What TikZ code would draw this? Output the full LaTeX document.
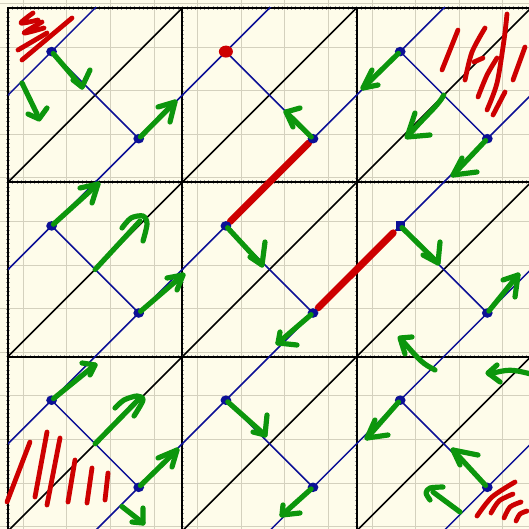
\documentclass[tikz,border=0pt]{standalone}
\usetikzlibrary{calc}
\definecolor{bg}{RGB}{254,252,234}
\definecolor{lightgrid}{RGB}{212,209,190}
\definecolor{navy}{RGB}{12,16,150}
\definecolor{gr}{RGB}{12,150,12}
\definecolor{rd}{RGB}{205,0,0}
\newcommand{\garr}[4]{\draw[garrow,shorten <=2.5pt] #1 -- #2; \draw[garrow] #3 -- #2 -- #4;}
\begin{document}
\begin{tikzpicture}[x=1pt,y=-1pt,
  garrow/.style={draw=gr,line width=5.2pt,line cap=round,line join=round},
  hatch/.style={draw=rd,line width=4.8pt,line cap=round,line join=round},
  redline/.style={draw=rd,line width=7pt,line cap=round},
  lgrid/.style={draw=lightgrid,line width=1.1pt},
  tgrid/.style={draw=black,line width=2.1pt,line cap=rect},
  tickmark/.style={draw=black!40,line width=0.3pt},
  blueline/.style={draw=navy,line width=1.5pt},
  diagline/.style={draw=black,line width=1.6pt},
  bluedot/.style={fill=navy}]
\fill[bg] (0,0) rectangle (529,529);
\useasboundingbox (0,0) rectangle (529,529);
% light grid
\foreach \k in {0,...,11} \draw[lgrid] ({23.3+43.6*\k},0) -- ({23.3+43.6*\k},529);
\foreach \k in {0,...,12} \draw[lgrid] (0,{3.5+43.6*\k}) -- (529,{3.5+43.6*\k});
% thick grid with ticks
\foreach \k in {0,1,2}{
  \pgfmathsetmacro\p{8+174.3*\k}
  \foreach \t in {1,...,119}{
    \draw[tickmark] (\p-1.8,{8+4.3575*\t}) -- (\p+1.8,{8+4.3575*\t});
    \draw[tickmark] ({8+4.3575*\t},\p-1.8) -- ({8+4.3575*\t},\p+1.8);
  }
  \draw[tgrid] (\p,8) -- (\p,531);
  \draw[tgrid] (8,\p) -- (531,\p);
}
% diagonals
\begin{scope}
  \clip (8,8) rectangle (529,529);
  \foreach \c in {103.15,277.45,451.75,626.05,800.35,974.65}
    \draw[blueline] ({\c-600},600) -- (600,{\c-600});
  \foreach \c in {190.3,364.6,538.9,713.2,887.5}
    \draw[diagline] ({\c-600},600) -- (600,{\c-600});
\end{scope}
% cell points
\foreach \i in {0,1,2}{\foreach \j in {0,1,2}{
  \pgfmathsetmacro\xo{8+174.3*\i}
  \pgfmathsetmacro\yo{8+174.3*\j}
  \coordinate (a\i\j) at (\xo+43.6,\yo+43.6);
  \coordinate (b\i\j) at (\xo+130.7,\yo+130.7);
  \coordinate (c\i\j) at (\xo+87.15,\yo+87.15);
}}
\foreach \i in {0,1,2}{\foreach \j in {0,1,2}{
  \draw[blueline] (a\i\j) -- (b\i\j);
}}
% red thick segments
\draw[redline] ($(b10)!0.05!(a11)$) -- ($(b10)!0.95!(a11)$);
\draw[redline] ($(b11)!0.06!(a21)$) -- ($(b11)!0.92!(a21)$);
% dots
\foreach \n in {a00,b00,b10,b20,a20,a01,b01,a11,b11,b21,a02,b02,a12,b12,a22,b22}
  \fill[bluedot] (\n) circle[x radius=5.4pt,y radius=4.8pt];
\fill[rd] (a10) circle[x radius=7pt,y radius=6pt];
\fill[navy] ($(a21)+(-4.6,-4.6)$) rectangle ($(a21)+(4.6,4.6)$);
% green arrows, row 1
\garr{(a00)}{(82,87)}{(90,70)}{(73,80)}
\draw[garrow] (22,83) -- (37,114); \draw[garrow] (28,114) -- (39,119) -- (47,108);
\garr{(b00)}{(175,102)}{(158,107)}{(170,122)}
\garr{(b10)}{(286,112)}{(300,108)}{(293,127)}
\garr{(a20)}{(363,88)}{(372,70)}{(378,85)}
\draw[garrow] (c20) .. controls (438,106) and (425,116) .. (409,135);
\draw[garrow] (415,113) -- (407,137) -- (430,135);
\garr{(b20)}{(453,175)}{(462,158)}{(477,172)}
% row 2
\garr{(a01)}{(98,184)}{(80,188)}{(92,203)}
\draw[garrow] (c01) -- (140,221);
\draw[garrow] plot[smooth] coordinates {(122,228) (131,218) (143,216) (147,224) (143,241)};
\garr{(b01)}{(183,275)}{(167,278)}{(177,290)}
\garr{(a11)}{(262,265)}{(265,242)}{(250,257)}
\garr{(b11)}{(278,343)}{(280,332)}{(297,345)}
\garr{(a21)}{(438,263)}{(440,242)}{(423,255)}
\garr{(b21)}{(518,275)}{(503,280)}{(515,297)}
\draw[garrow] (435,370) .. controls (422,363) .. (401,339);
\draw[garrow] (412,337) -- (400,338) -- (405,354);
% row 3
\garr{(a02)}{(95,365)}{(82,363)}{(90,375)}
\draw[garrow] (c02) -- (138,400);
\draw[garrow] plot[smooth] coordinates {(115,408) (124,400) (137,396) (143,400) (134,416)};
\garr{(b02)}{(177,450)}{(158,458)}{(172,467)}
\garr{(120,505)}{(143,523)}{(143,508)}{(132,522)}
\garr{(a12)}{(265,435)}{(267,415)}{(253,432)}
\garr{(b12)}{(282,515)}{(283,505)}{(300,513)}
\garr{(a22)}{(367,438)}{(375,420)}{(388,435)}
\garr{(b22)}{(453,450)}{(460,465)}{(478,455)}
\draw[garrow] (460,512) -- (433,492);
\draw[garrow] plot[smooth] coordinates {(443,487) (430,488) (426,493) (430,500)};
\draw[garrow] (531,374) .. controls (510,369) .. (489,374);
\draw[garrow] (497,365) -- (488,373) -- (500,382);
% red hatching top-left
\draw[hatch] plot[smooth] coordinates {(33,13) (21,23) (38,20)};
\draw[hatch] plot[smooth] coordinates {(42,22) (24,33) (44,28)};
\draw[hatch] (18,50) -- (47,33);
\draw[hatch] (22,60) -- (72,18);
% red hatching top-right
\draw[hatch] (442,70) -- (458,30);
\draw[hatch] plot[smooth] coordinates {(465,80) (472,52) (485,28)};
\draw[hatch] plot[smooth] coordinates {(478,97) (487,75) (497,58)};
\draw[hatch] plot[smooth] coordinates {(487,110) (497,83) (504,40) (507,14)};
\draw[hatch] (493,115) -- (505,92);
\draw[hatch] (513,80) -- (525,47);
\draw[hatch] (474,62) -- (483,58);
% red hatching bottom-left
\draw[hatch] (7,502) -- (30,442);
\draw[hatch] (35,497) -- (47,432);
\draw[hatch] (47,505) -- (60,438);
\draw[hatch] (68,502) -- (75,460);
\draw[hatch] (87,503) -- (92,468);
\draw[hatch] (105,500) -- (108,473);
% red hatching bottom-right
\draw[hatch] plot[smooth] coordinates {(477,516) (492,497) (515,482)};
\draw[hatch] plot[smooth] coordinates {(491,513) (499,501) (513,494)};
\draw[hatch] plot[smooth] coordinates {(504,518) (510,507) (521,502)};
\draw[hatch] plot[smooth] coordinates {(516,521) (520,514) (527,511)};
\end{tikzpicture}
\end{document}
